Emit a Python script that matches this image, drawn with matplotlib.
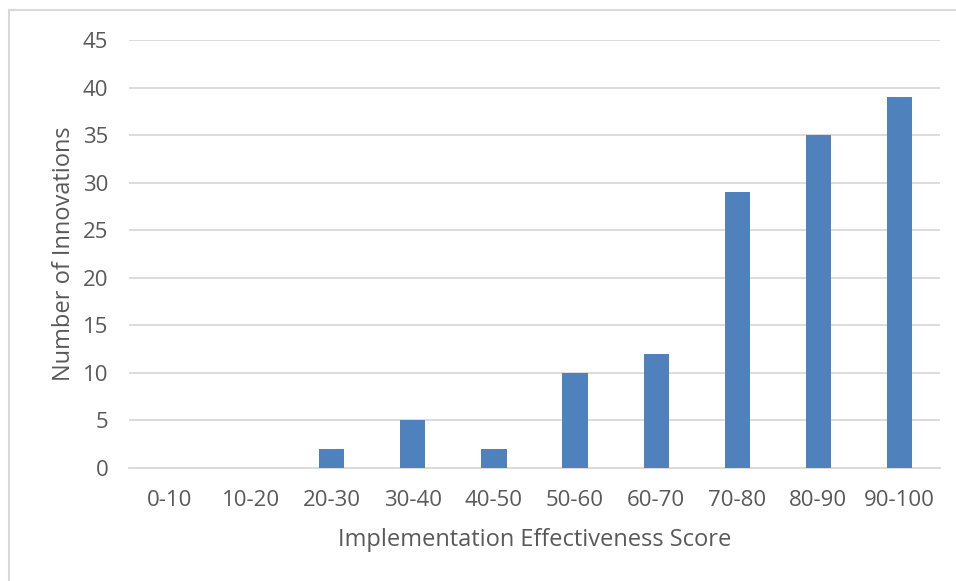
import matplotlib
matplotlib.use("Agg")
import matplotlib.pyplot as plt
import numpy as np

categories = ["0-10", "10-20", "20-30", "30-40", "40-50", "50-60",
              "60-70", "70-80", "80-90", "90-100"]
counts = [0, 0, 2, 5, 2, 10, 12, 29, 35, 39]
y_ticks = [0, 5, 10, 15, 20, 25, 30, 35, 40, 45]

plt.rcParams["font.family"] = ["Open Sans", "DejaVu Sans"]
text_color = "#595959"
grid_color = "#d9d9d9"
bar_color = "#4f81bd"

W, H = 956, 581
fig = plt.figure(figsize=(W / 100, H / 100), dpi=100)
fig.patch.set_facecolor("white")

# thin frame line along the top and left of the chart area
fig.add_artist(plt.Line2D([8.5 / W, 8.5 / W], [0, 1 - 10 / H],
                          transform=fig.transFigure, color=grid_color, lw=1.5))
fig.add_artist(plt.Line2D([8.5 / W, 1], [1 - 10 / H, 1 - 10 / H],
                          transform=fig.transFigure, color=grid_color, lw=1.5))

left, right = 129 / W, 940 / W
bottom, top = 1 - 468 / H, 1 - 40 / H
ax = fig.add_axes([left, bottom, right - left, top - bottom])

x = np.arange(len(categories))
ax.bar(x, counts, width=0.31, color=bar_color, zorder=3)

ax.set_xlim(-0.5, len(categories) - 0.5)
ax.set_ylim(0, 45)
ax.set_yticks(y_ticks)
ax.set_xticks(x)
ax.set_xticklabels(categories)
ax.yaxis.grid(True, color=grid_color, lw=1.3, zorder=0)
ax.set_axisbelow(True)

for s in ["top", "right", "left"]:
    ax.spines[s].set_visible(False)
ax.spines["bottom"].set_color(grid_color)
ax.spines["bottom"].set_linewidth(1.3)

ax.tick_params(axis="both", length=0, labelsize=16, colors=text_color)
ax.tick_params(axis="y", pad=15)
ax.tick_params(axis="x", pad=16)

ax.set_xlabel("Implementation Effectiveness Score", fontsize=17,
              color=text_color, labelpad=12)
ax.set_ylabel("Number of Innovations", fontsize=17, color=text_color,
              labelpad=5)

fig.savefig("out.png", dpi=100, facecolor="white")
